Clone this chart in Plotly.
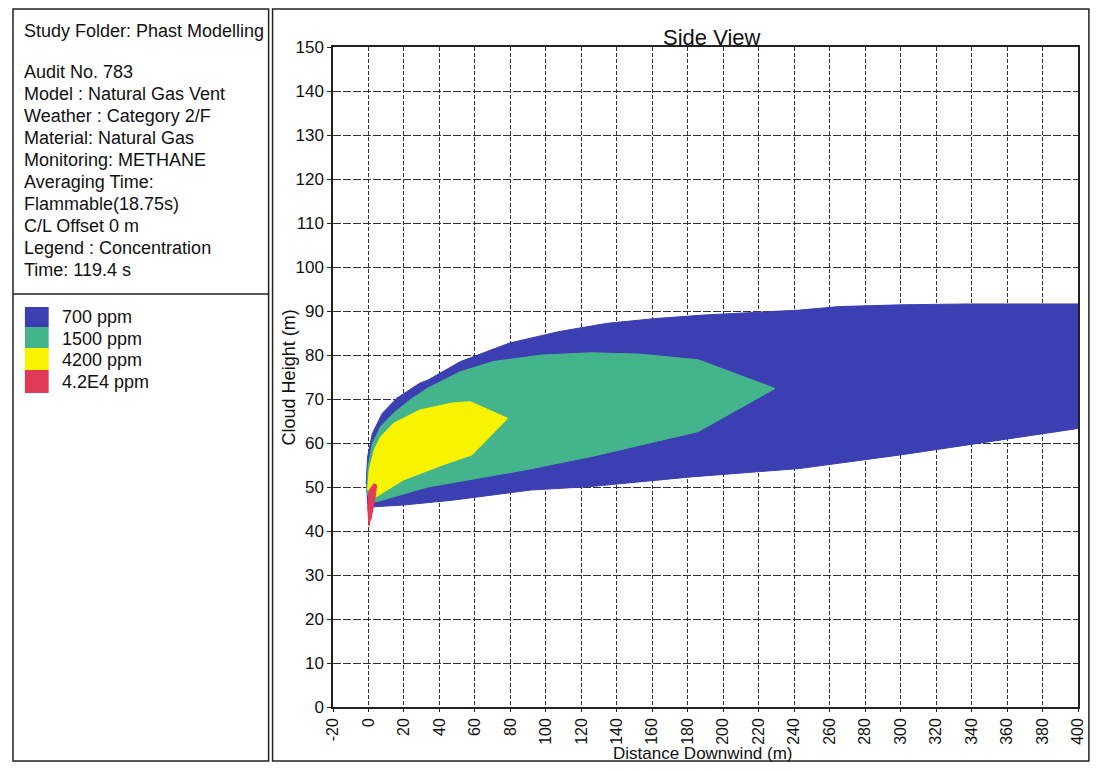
import plotly.graph_objects as go

# ---- data ----
x_ticks = list(range(-20, 401, 20))
y_ticks = list(range(0, 151, 10))

blue_x = [-1.3, -0.5, 2.2, 7.7, 16.0, 28.9, 33.5, 51.8, 79.4, 107.0, 134.5, 162.1, 189.7, 217.2, 243.0, 265.0, 300.0, 338.0, 400.0,
          400.0, 300.0, 243.0, 182.0, 125.4, 91.4, 47.3, 19.7, 3.2, 0.8, -0.8]
blue_y = [50.7, 56.9, 62.2, 66.7, 70.2, 73.6, 74.3, 78.5, 82.7, 85.3, 87.2, 88.3, 89.1, 89.6, 90.2, 91.0, 91.4, 91.6, 91.6,
          63.3, 57.3, 54.2, 52.3, 50.1, 49.3, 47.0, 45.9, 45.5, 45.2, 46.5]

green_x = [-0.9, -0.2, 2.2, 6.8, 14.2, 23.4, 33.5, 51.8, 70.2, 97.8, 125.4, 152.9, 186.0, 229.2,
           186.0, 162.0, 125.4, 88.6, 51.8, 33.5, 5.0, 1.0]
green_y = [48.6, 54.6, 59.9, 63.7, 66.8, 69.8, 72.5, 76.2, 78.5, 80.0, 80.5, 80.2, 78.9, 72.4,
           62.6, 60.3, 56.9, 53.9, 51.2, 50.0, 46.7, 46.5]

yellow_x = [-0.5, 0.4, 3.2, 6.8, 14.2, 28.9, 47.3, 57.3, 78.5, 58.3, 41.7, 19.7, 3.2]
yellow_y = [49.3, 53.9, 58.4, 61.4, 64.5, 67.5, 69.1, 69.4, 65.6, 57.3, 55.0, 51.6, 47.5]

red_x = [0.4, -0.5, 0.4, 3.2, 4.6, 3.5, 1.3]
red_y = [41.0, 45.5, 49.3, 50.8, 50.4, 47.0, 42.5]

band_names = ["700 ppm", "1500 ppm", "4200 ppm", "4.2E4 ppm"]
band_colors = ["#3b3fb2", "#44b48c", "#f8f400", "#e03a58"]

info_lines = ["Audit No. 783", "Model : Natural Gas Vent", "Weather : Category 2/F",
              "Material: Natural Gas", "Monitoring: METHANE", "Averaging Time:",
              "Flammable(18.75s)", "C/L Offset 0 m", "Legend : Concentration", "Time: 119.4 s"]

# ---- layout geometry (screen pixels; the page body adds an 8px margin all round) ----
OFF = 8
W, H = 1106 - 2 * OFF, 771 - 2 * OFF
L, R, T, B = 333 - OFF, 1085 - OFF, 47 - OFF, 707 - OFF


def px(xs):
    return (xs - OFF - L) / (R - L)


def py(ys):
    return (B - (ys - OFF)) / (B - T)


FONT = "Liberation Sans, Arial, sans-serif"

fig = go.Figure()
for xs, ys, col in [(blue_x, blue_y, band_colors[0]), (green_x, green_y, band_colors[1]),
                    (yellow_x, yellow_y, band_colors[2]), (red_x, red_y, band_colors[3])]:
    fig.add_trace(go.Scatter(x=xs, y=ys, mode="lines", fill="toself", fillcolor=col,
                             line=dict(color=col, width=1), hoverinfo="skip", showlegend=False))

shapes = []
shapes.append(dict(type="rect", xref="paper", yref="paper", x0=px(10), x1=px(268), y0=py(761), y1=py(9),
                   line=dict(color="#222", width=1.5)))
shapes.append(dict(type="line", xref="paper", yref="paper", x0=px(10), x1=px(268), y0=py(294), y1=py(294),
                   line=dict(color="#222", width=1.5)))
shapes.append(dict(type="rect", xref="paper", yref="paper", x0=px(272), x1=px(1096), y0=py(761), y1=py(9),
                   line=dict(color="#222", width=1.5)))
sw_top = [307, 327, 348, 370]
sw_bot = [327, 348, 370, 393]
for c, t0, t1 in zip(band_colors, sw_top, sw_bot):
    shapes.append(dict(type="rect", xref="paper", yref="paper", x0=px(22), x1=px(46), y0=py(t1), y1=py(t0),
                       fillcolor=c, line=dict(width=0)))

TXT = dict(size=18, family=FONT, color="#111")
annotations = []
annotations.append(dict(text="Study Folder: Phast Modelling", xref="paper", yref="paper", x=px(19), y=py(31),
                        xanchor="left", yanchor="middle", showarrow=False, font=TXT))
for i, line in enumerate(info_lines):
    annotations.append(dict(text=line, xref="paper", yref="paper", x=px(19), y=py(72 + 22 * i),
                            xanchor="left", yanchor="middle", showarrow=False, font=TXT))
for i, name in enumerate(band_names):
    annotations.append(dict(text=name, xref="paper", yref="paper", x=px(57), y=py(317 + 21.5 * i),
                            xanchor="left", yanchor="middle", showarrow=False, font=TXT))
annotations.append(dict(text="Side View", xref="paper", yref="paper", x=px(716), y=py(37),
                        xanchor="center", yanchor="middle", showarrow=False,
                        font=dict(size=22, family=FONT, color="#111")))
annotations.append(dict(text="Distance Downwind (m)", xref="paper", yref="paper", x=px(706), y=py(753),
                        xanchor="center", yanchor="middle", showarrow=False,
                        font=dict(size=17, family=FONT, color="#111")))
annotations.append(dict(text="Cloud Height (m)", xref="paper", yref="paper", x=px(289), y=py(377), textangle=-90,
                        xanchor="center", yanchor="middle", showarrow=False, font=TXT))

fig.update_layout(
    width=W, height=H,
    margin=dict(l=L, r=W - R, t=T, b=H - B),
    paper_bgcolor="white", plot_bgcolor="white",
    shapes=shapes, annotations=annotations,
    showlegend=False,
    font=dict(family=FONT, size=16, color="#111"),
    xaxis=dict(range=[-20, 400], tickvals=x_ticks, ticktext=[str(v) for v in x_ticks], tickangle=-90,
               showgrid=True, gridcolor="#333", griddash="4px,2px", gridwidth=1,
               showline=True, linecolor="#222", linewidth=1.5, mirror=True,
               ticks="outside", ticklen=3, tickcolor="#222", zeroline=False,
               tickfont=dict(size=16, family=FONT, color="#111")),
    yaxis=dict(range=[0, 150], tickvals=y_ticks, ticktext=[str(v) for v in y_ticks],
               showgrid=True, gridcolor="#333", griddash="8px,2px", gridwidth=1,
               showline=True, linecolor="#222", linewidth=1.5, mirror=True,
               ticks="outside", ticklen=4, tickcolor="#222", zeroline=False,
               tickfont=dict(size=17, family=FONT, color="#111")),
)

fig.write_html("out.html")
